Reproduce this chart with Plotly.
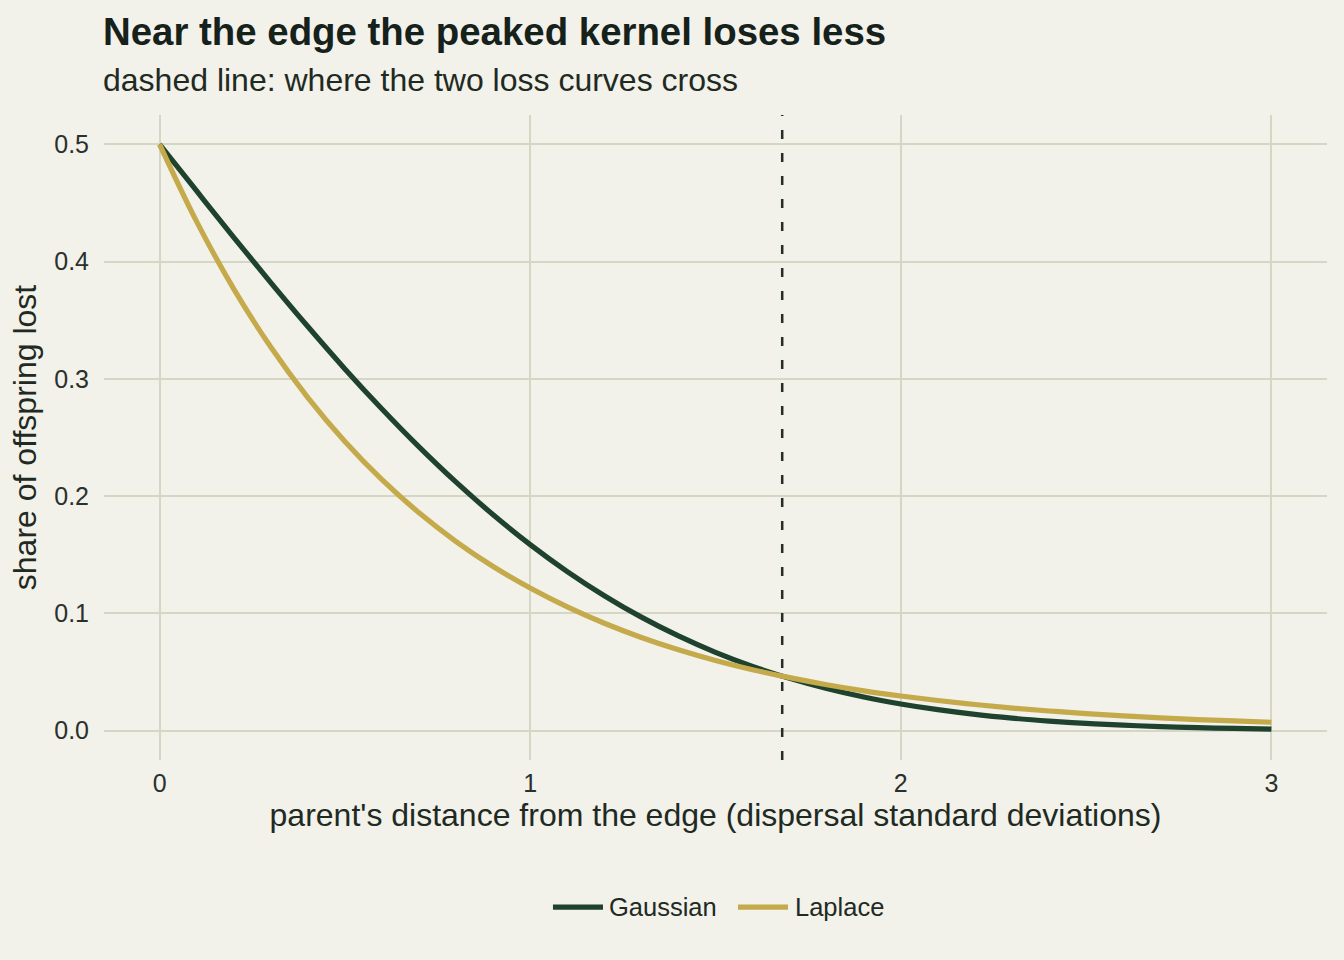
import plotly.graph_objects as go

distance = [0.0, 0.1, 0.2, 0.3, 0.4, 0.5, 0.6, 0.7, 0.8, 0.9, 1.0,
            1.1, 1.2, 1.3, 1.4, 1.5, 1.6, 1.7, 1.8, 1.9, 2.0,
            2.1, 2.2, 2.3, 2.4, 2.5, 2.6, 2.7, 2.8, 2.9, 3.0]
gaussian_loss = [0.5, 0.4602, 0.4207, 0.3821, 0.3446, 0.3085, 0.2743, 0.2420, 0.2119, 0.1841, 0.1587,
                 0.1357, 0.1151, 0.0968, 0.0808, 0.0668, 0.0548, 0.0446, 0.0359, 0.0287, 0.0228,
                 0.0179, 0.0139, 0.0107, 0.0082, 0.0062, 0.0047, 0.0035, 0.0026, 0.0019, 0.0013]
laplace_loss = [0.5, 0.4341, 0.3768, 0.3271, 0.2840, 0.2466, 0.2140, 0.1858, 0.1613, 0.1400, 0.1216,
                0.1055, 0.0916, 0.0795, 0.0690, 0.0599, 0.0520, 0.0452, 0.0392, 0.0340, 0.0296,
                0.0257, 0.0223, 0.0193, 0.0168, 0.0146, 0.0126, 0.0110, 0.0095, 0.0083, 0.0072]
crossing_x = 1.68

series_names = ["Gaussian", "Laplace"]
series_colors = ["#1E422D", "#C4AA4A"]

x_ticks = [0, 1, 2, 3]
y_ticks = [0.0, 0.1, 0.2, 0.3, 0.4, 0.5]
y_tick_labels = ["0.0", "0.1", "0.2", "0.3", "0.4", "0.5"]

title_text = "Near the edge the peaked kernel loses less"
subtitle_text = "dashed line: where the two loss curves cross"

BG = "#F2F1EA"
GRID = "#D6D6C4"
TEXT = "#1E2A22"
FONT = "Liberation Sans, Arial, sans-serif"

fig = go.Figure()
for name, ys, col in zip(series_names, [gaussian_loss, laplace_loss], series_colors):
    fig.add_trace(go.Scatter(x=distance, y=ys, mode="lines", name=name, showlegend=False,
                             line=dict(color=col, width=5.2, shape="spline")))

fig.add_vline(x=crossing_x, line=dict(color="#252D27", width=2.5, dash="9px,14px"), layer="above")

fig.add_annotation(text="<b>" + title_text + "</b>", xref="paper", yref="paper",
                   x=0, xanchor="left", xshift=-3, y=1.1287, yanchor="middle", showarrow=False,
                   font=dict(size=38.4, color="#15211A", family=FONT))
fig.add_annotation(text=subtitle_text, xref="paper", yref="paper",
                   x=0, xanchor="left", xshift=-3, y=1.0543, yanchor="middle", showarrow=False,
                   font=dict(size=32, color=TEXT, family=FONT))

# legend drawn below the plot, centred
legend_y = -0.228
legend_items = [(0.3671, 0.4080, 0.4129), (0.5184, 0.5593, 0.5650)]
for (x0, x1, xt), name, col in zip(legend_items, series_names, series_colors):
    fig.add_shape(type="line", xref="paper", yref="paper", x0=x0, x1=x1, y0=legend_y, y1=legend_y,
                  line=dict(color=col, width=5.2))
    fig.add_annotation(text=name, xref="paper", yref="paper", x=xt, xanchor="left", xshift=-2,
                       y=legend_y, yanchor="middle", showarrow=False,
                       font=dict(size=25.5, color=TEXT, family=FONT))

fig.update_layout(
    width=1344, height=960,
    paper_bgcolor=BG, plot_bgcolor=BG,
    margin=dict(l=104, r=17, t=115, b=200),
    font=dict(family=FONT, color=TEXT, size=24),
    xaxis=dict(
        range=[-0.15, 3.15], tickvals=x_ticks, ticktext=[str(t) for t in x_ticks],
        showgrid=True, gridcolor=GRID, gridwidth=1.6, zeroline=False,
        showline=False, ticks="", tickfont=dict(size=25, color="#2A302B"),
        ticklabelstandoff=6,
        title=dict(text="parent's distance from the edge (dispersal standard deviations)",
                   font=dict(size=32, color=TEXT), standoff=6),
    ),
    yaxis=dict(
        range=[-0.025, 0.525], tickvals=y_ticks, ticktext=y_tick_labels,
        showgrid=True, gridcolor=GRID, gridwidth=1.6, zeroline=False,
        showline=False, ticks="", tickfont=dict(size=25, color="#2A302B"),
        ticklabelstandoff=14,
        title=dict(text="share of offspring lost", font=dict(size=32, color=TEXT), standoff=8),
    ),
    showlegend=False,
)

fig.write_html("out.html", config={"displayModeBar": False},
               post_script="document.body.style.margin='0px';")
